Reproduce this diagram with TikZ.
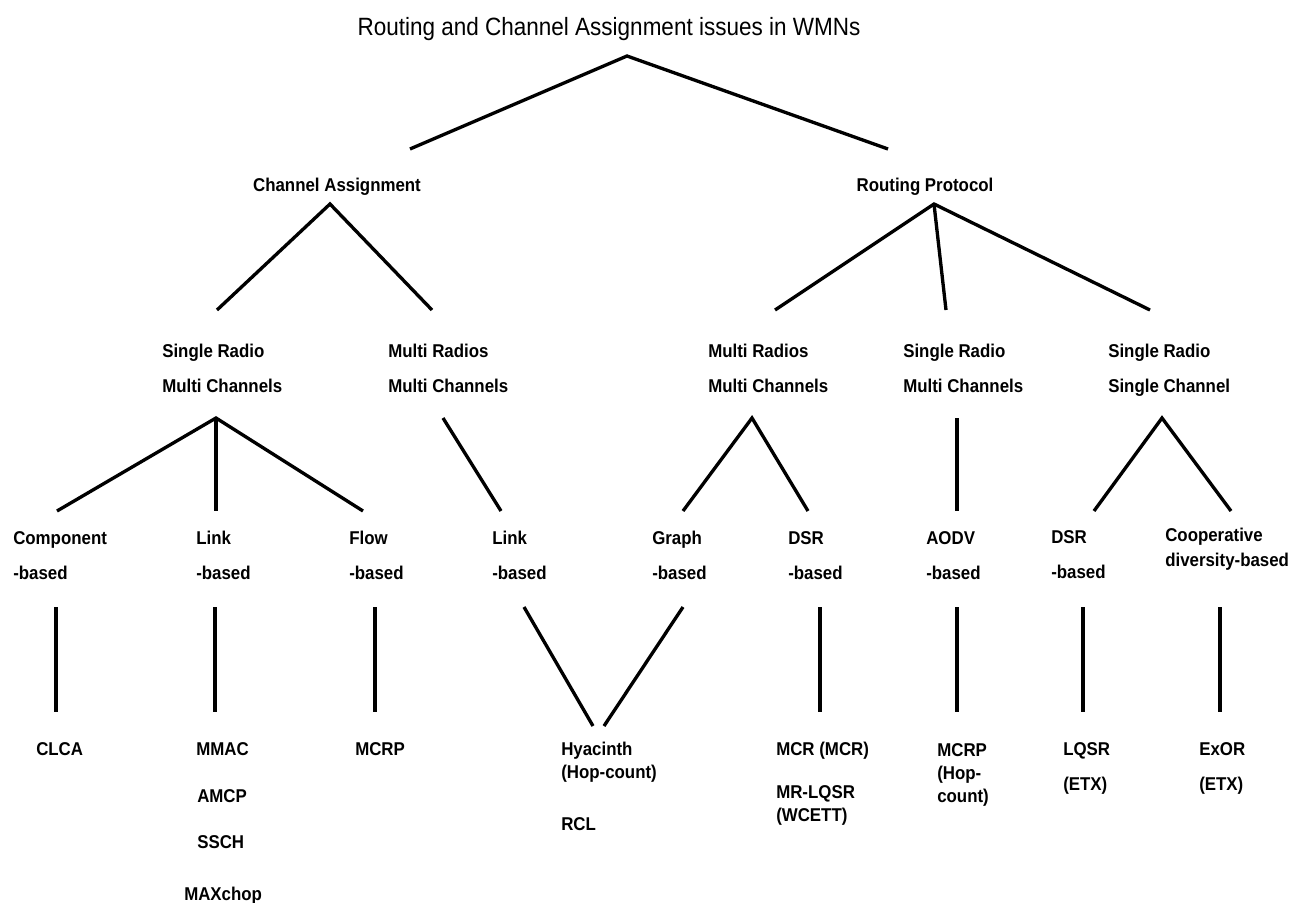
\documentclass[tikz,border=0pt]{standalone}
\usepackage{fontspec}
\setmainfont{Liberation Sans}[FakeStretch=0.91]
\newfontfamily\titlefont{Liberation Sans}[FakeStretch=0.9]

\begin{document}
\begin{tikzpicture}[x=0.75pt,y=-0.75pt]
    \tikzstyle{every node}+=[inner sep=0pt]
    \tikzstyle{lbl}=[anchor=base west, align=left, font=\fontsize{13.9}{26.25}\selectfont\bfseries]
    \tikzstyle{leaf}=[anchor=base west, align=left, font=\fontsize{13.9}{17.25}\selectfont\bfseries]
    \tikzstyle{branch}=[black, line width=2.5pt]
    \useasboundingbox (0,0) rectangle (1293,903);
    % root and first level
    \node [anchor=base, font=\fontsize{18.75}{22}\selectfont\titlefont] (title) at (609,36) {Routing and Channel Assignment issues in WMNs};
    \node [anchor=base, font=\fontsize{13.9}{17}\selectfont\bfseries] (chan) at (337,191) {Channel Assignment};
    \node [anchor=base, font=\fontsize{13.9}{17}\selectfont\bfseries] (rout) at (925,191) {Routing Protocol};
    % second level (base = last line)
    \node [lbl] (srmc1) at (162,392) {Single Radio\\Multi Channels};
    \node [lbl] (mrmc1) at (388,392) {Multi Radios\\Multi Channels};
    \node [lbl] (mrmc2) at (708,392) {Multi Radios\\Multi Channels};
    \node [lbl] (srmc2) at (903,392) {Single Radio\\Multi Channels};
    \node [lbl] (srsc) at (1108,392) {Single Radio\\Single Channel};
    % third level
    \node [lbl] (comp) at (13,579) {Component\\-based};
    \node [lbl] (link1) at (196,579) {Link\\-based};
    \node [lbl] (flow) at (349,579) {Flow\\-based};
    \node [lbl] (link2) at (492,579) {Link\\-based};
    \node [lbl] (graph) at (652,579) {Graph\\-based};
    \node [lbl] (dsr1) at (788,579) {DSR\\-based};
    \node [lbl] (aodv) at (926,579) {AODV\\-based};
    \node [lbl] (dsr2) at (1051,578) {DSR\\-based};
    \node [leaf, font=\fontsize{13.9}{18.75}\selectfont\bfseries] (coop) at (1165,566) {Cooperative\\diversity-based};
    % protocols
    \node [leaf] (clca) at (36,755) {CLCA};
    \node [leaf] (mmac) at (196,755) {MMAC};
    \node [leaf] (amcp) at (197,802) {AMCP};
    \node [leaf] (ssch) at (197,848) {SSCH};
    \node [leaf] (maxchop) at (184,900) {MAXchop};
    \node [leaf] (mcrp1) at (355,755) {MCRP};
    \node [leaf] (hyac) at (561,778) {Hyacinth\\(Hop-count)};
    \node [leaf] (rcl) at (561,830) {RCL};
    \node [leaf] (mcr) at (776,755) {MCR (MCR)};
    \node [leaf] (mrlqsr) at (776,821) {MR-LQSR\\(WCETT)};
    \node [leaf] (mcrp2) at (937,802) {MCRP\\(Hop-\\count)};
    \node [leaf, font=\fontsize{13.9}{26.25}\selectfont\bfseries] (lqsr) at (1063,790) {LQSR\\(ETX)};
    \node [leaf, font=\fontsize{13.9}{26.25}\selectfont\bfseries] (exor) at (1199,790) {ExOR\\(ETX)};
    % line ends
    \coordinate (title-b) at (627,56);
    \coordinate (chan-t) at (410,149);
    \coordinate (rout-t) at (888,149);
    \coordinate (chan-b) at (330,204);
    \coordinate (rout-b) at (934,204);
    \coordinate (srmc1-t) at (217,310);
    \coordinate (mrmc1-t) at (432,310);
    \coordinate (mrmc2-t) at (775,310);
    \coordinate (srmc2-t) at (946,310);
    \coordinate (srsc-t) at (1150,310);
    \coordinate (srmc1-b) at (216,418);
    \coordinate (mrmc1-b) at (443,418);
    \coordinate (mrmc2-b) at (752,418);
    \coordinate (srmc2-b) at (957,418);
    \coordinate (srsc-b) at (1162,418);
    \coordinate (comp-t) at (57,511);
    \coordinate (link1-t) at (216,511);
    \coordinate (flow-t) at (363,511);
    \coordinate (link2-t) at (501,511);
    \coordinate (graph-t) at (683,511);
    \coordinate (dsr1-t) at (808,511);
    \coordinate (aodv-t) at (957,511);
    \coordinate (dsr2-t) at (1094,511);
    \coordinate (coop-t) at (1231,511);
    \coordinate (comp-b) at (56,607);
    \coordinate (link1-b) at (215,607);
    \coordinate (flow-b) at (375,607);
    \coordinate (link2-b) at (524,607);
    \coordinate (graph-b) at (683,607);
    \coordinate (dsr1-b) at (820,607);
    \coordinate (aodv-b) at (957,607);
    \coordinate (dsr2-b) at (1083,607);
    \coordinate (coop-b) at (1220,607);
    \coordinate (clca-t) at (56,712);
    \coordinate (mmac-t) at (215,712);
    \coordinate (mcrp1-t) at (375,712);
    \coordinate (hyac-tl) at (593,726);
    \coordinate (hyac-tr) at (604,726);
    \coordinate (mcr-t) at (820,712);
    \coordinate (mcrp2-t) at (957,712);
    \coordinate (lqsr-t) at (1083,712);
    \coordinate (exor-t) at (1220,712);
    % branches
    \draw [branch] (chan-t) -- (title-b) -- (rout-t);
    \draw [branch] (srmc1-t) -- (chan-b) -- (mrmc1-t);
    \draw [branch] (mrmc2-t) -- (rout-b) -- (srsc-t);
    \draw [branch] (rout-b) -- (srmc2-t);
    \draw [branch] (comp-t) -- (srmc1-b) -- (flow-t);
    \draw [branch] (srmc1-b) -- (link1-t);
    \draw [branch] (mrmc1-b) -- (link2-t);
    \draw [branch] (graph-t) -- (mrmc2-b) -- (dsr1-t);
    \draw [branch] (srmc2-b) -- (aodv-t);
    \draw [branch] (dsr2-t) -- (srsc-b) -- (coop-t);
    \draw [branch] (comp-b) -- (clca-t);
    \draw [branch] (link1-b) -- (mmac-t);
    \draw [branch] (flow-b) -- (mcrp1-t);
    \draw [branch] (link2-b) -- (hyac-tl);
    \draw [branch] (graph-b) -- (hyac-tr);
    \draw [branch] (dsr1-b) -- (mcr-t);
    \draw [branch] (aodv-b) -- (mcrp2-t);
    \draw [branch] (dsr2-b) -- (lqsr-t);
    \draw [branch] (coop-b) -- (exor-t);
\end{tikzpicture}
\end{document}
